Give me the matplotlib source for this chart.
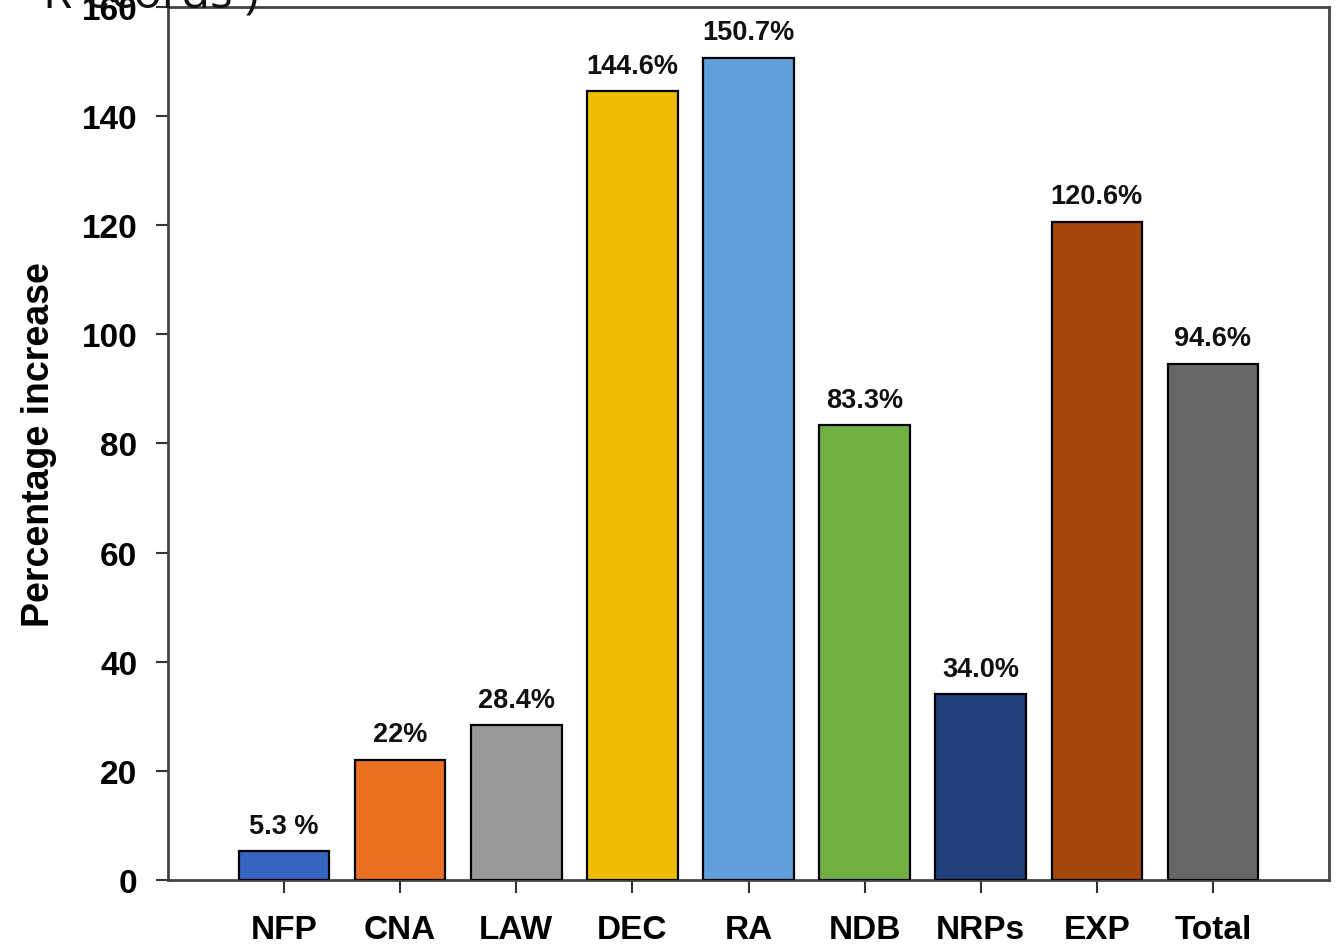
import matplotlib
matplotlib.use("Agg")
import matplotlib.pyplot as plt
from matplotlib import font_manager

categories = ["NFP", "CNA", "LAW", "DEC", "RA", "NDB", "NRPs", "EXP", "Total"]
values = [5.3, 22.0, 28.4, 144.6, 150.7, 83.3, 34.0, 120.6, 94.6]
bar_labels = ["5.3 %", "22%", "28.4%", "144.6%", "150.7%", "83.3%", "34.0%", "120.6%", "94.6%"]
colors = ["#3465C3", "#EA7120", "#999999", "#EFBD00", "#62A0DD",
          "#70B043", "#203F78", "#A5460B", "#676767"]
yticks = [0, 20, 40, 60, 80, 100, 120, 140, 160]

names = {f.name for f in font_manager.fontManager.ttflist}
fam = ["Liberation Sans Narrow"] if "Liberation Sans Narrow" in names else ["Liberation Sans"]
fam = fam + ["DejaVu Sans"]
plt.rcParams["font.family"] = fam

fig = plt.figure(figsize=(13.37, 9.45), dpi=100)
ax = fig.add_axes([168/1337, 1 - 881/945, (1329-168)/1337, (881-8)/945])

x = list(range(1, len(categories) + 1))
bars = ax.bar(x, values, width=0.78, color=colors, edgecolor="black", linewidth=1.6, zorder=3)

for xi, v, lab in zip(x, values, bar_labels):
    ax.annotate(lab, (xi, v), xytext=(0, 9), textcoords="offset points",
                ha="center", va="bottom", fontsize=19.5, fontweight="bold", color="#111111")

ax.set_xlim(0, 10)
ax.set_ylim(0, 160)
ax.set_xticks(x)
ax.set_xticklabels(categories, fontsize=24, fontweight="bold")
ax.set_yticks(yticks)
ax.set_yticklabels([str(t) for t in yticks], fontsize=24, fontweight="bold")
ax.tick_params(axis="both", direction="out", length=9, width=1.5, color="#333333", pad=13)
ax.tick_params(axis="x", pad=15.5)
for s in ax.spines.values():
    s.set_color("#444444")
    s.set_linewidth(2)

ax.set_ylabel("Percentage increase", fontsize=27, fontweight="bold")
ax.yaxis.set_label_coords(-0.096, 0.5)

fig.text(43/1337, 1 - 8/945, "R ecords )", fontsize=34,
         family=["Open Sans", "DejaVu Sans"], va="baseline", ha="left", color="#111111")

fig.savefig("out.png", dpi=100)
